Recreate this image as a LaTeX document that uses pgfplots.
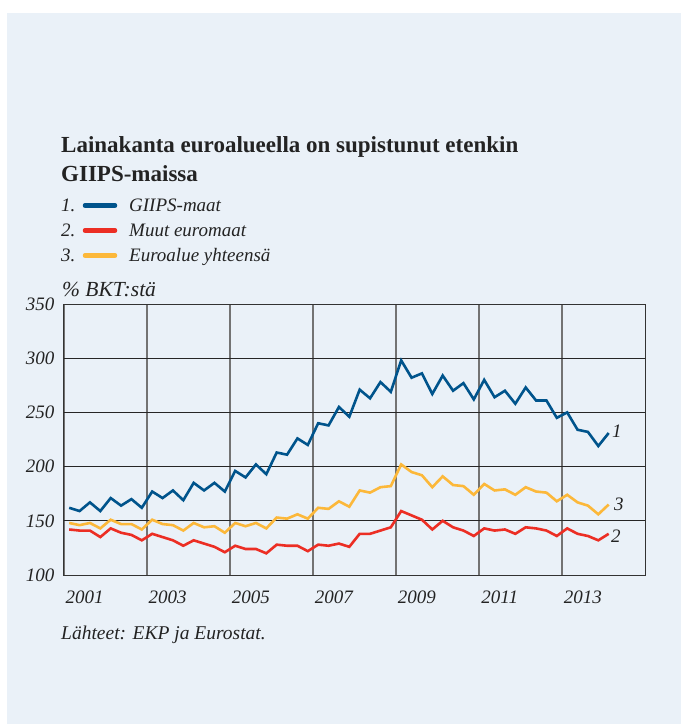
\documentclass[border=0pt]{standalone}
\usepackage{fontspec}
\setmainfont{Liberation Serif}
\usepackage{pgfplots}
\usepackage{pgfplotstable}
\pgfplotsset{compat=1.18}
\definecolor{panel}{RGB}{234,241,248}
\definecolor{cblue}{RGB}{0,84,140}
\definecolor{cred}{RGB}{236,46,36}
\definecolor{cyel}{RGB}{252,184,58}
\definecolor{txt}{RGB}{35,35,35}
\pgfplotstableread{
date giips muut euro
2001.125 162 142 148
2001.375 159 141 146
2001.625 167 141 148
2001.875 159 135 143
2002.125 171 143 151
2002.375 164 139 147
2002.625 170 137 147
2002.875 162 132 142
2003.125 177 138 151
2003.375 171 135 147
2003.625 178 132 146
2003.875 169 127 141
2004.125 185 132 148
2004.375 178 129 144
2004.625 185 126 145
2004.875 177 121 139
2005.125 196 127 148
2005.375 190 124 145
2005.625 202 124 148
2005.875 193 120 143
2006.125 213 128 153
2006.375 211 127 152
2006.625 226 127 156
2006.875 220 122 152
2007.125 240 128 162
2007.375 238 127 161
2007.625 255 129 168
2007.875 246 126 163
2008.125 271 138 178
2008.375 263 138 176
2008.625 278 141 181
2008.875 269 144 182
2009.125 298 159 202
2009.375 282 155 195
2009.625 286 151 192
2009.875 267 142 181
2010.125 284 150 191
2010.375 270 144 183
2010.625 277 141 182
2010.875 262 136 174
2011.125 280 143 184
2011.375 264 141 178
2011.625 270 142 179
2011.875 258 138 174
2012.125 273 144 181
2012.375 261 143 177
2012.625 261 141 176
2012.875 245 136 168
2013.125 250 143 174
2013.375 234 138 167
2013.625 232 136 164
2013.875 219 132 156
2014.125 231 138 165
}\data
\begin{document}
\begin{tikzpicture}[x=1pt,y=1pt]
\fill[white] (0pt,0pt) rectangle (681pt,-724pt);
\fill[panel] (7pt,-13pt) rectangle (681pt,-724pt);
\node[anchor=base west, inner sep=0, font=\fontsize{23}{27}\selectfont\bfseries, text=txt] at (61pt,-152pt) {Lainakanta euroalueella on supistunut etenkin};
\node[anchor=base west, inner sep=0, font=\fontsize{23}{27}\selectfont\bfseries, text=txt] at (61pt,-181pt) {GIIPS-maissa};
\node[anchor=base west, inner sep=0, font=\fontsize{19}{22}\selectfont\itshape, text=txt] at (61pt,-211pt) {1.};
\node[anchor=base west, inner sep=0, font=\fontsize{19}{22}\selectfont\itshape, text=txt] at (61pt,-236pt) {2.};
\node[anchor=base west, inner sep=0, font=\fontsize{19}{22}\selectfont\itshape, text=txt] at (61pt,-261pt) {3.};
\draw[cblue, line width=4.5pt, line cap=round] (85pt,-205.5pt) -- (115pt,-205.5pt);
\draw[cred, line width=4.5pt, line cap=round] (85pt,-230.5pt) -- (115pt,-230.5pt);
\draw[cyel, line width=4.5pt, line cap=round] (85pt,-255.5pt) -- (115pt,-255.5pt);
\node[anchor=base west, inner sep=0, font=\fontsize{19}{22}\selectfont\itshape, text=txt] at (129pt,-211pt) {GIIPS-maat};
\node[anchor=base west, inner sep=0, font=\fontsize{19}{22}\selectfont\itshape, text=txt] at (129pt,-236pt) {Muut euromaat};
\node[anchor=base west, inner sep=0, font=\fontsize{19}{22}\selectfont\itshape, text=txt] at (129pt,-261pt) {Euroalue yhteensä};
\node[anchor=base west, inner sep=0, font=\fontsize{21.5}{24}\selectfont\itshape, text=txt] at (62pt,-296pt) {\% BKT:stä};
\node[anchor=base west, inner sep=0, font=\fontsize{19.5}{22}\selectfont\itshape, text=txt] at (61pt,-639pt) {Lähteet: EKP ja Eurostat.};
\begin{axis}[
  at={(64pt,-575pt)}, anchor=south west,
  width=581pt, height=271pt, scale only axis,
  xmin=2001, xmax=2015, ymin=100, ymax=350,
  xtick={2001,2003,...,2013},
  xticklabels={2001,2003,2005,2007,2009,2011,2013},
  ytick={100,150,...,350},
  major tick length=0pt,
  grid=major,
  x grid style={black!55, line width=1.4pt},
  y grid style={black!85, line width=0.8pt},
  axis line style={black!80, line width=1pt},
  /pgf/number format/assume math mode=true,
  /pgf/number format/1000 sep={},
  tick label style={font=\fontsize{19}{22}\selectfont\itshape, text=txt},
  x tick label style={xshift=20.75pt, yshift=-12pt},
  y tick label style={xshift=-6pt},
  axis background/.style={fill=panel},
  clip=false,
]
\addplot[cblue, line width=2.6pt, line join=miter] table[x=date, y=giips] {\data};
\addplot[cred, line width=2.6pt, line join=miter] table[x=date, y=muut] {\data};
\addplot[cyel, line width=2.6pt, line join=miter] table[x=date, y=euro] {\data};
\node[font=\fontsize{19}{22}\selectfont\itshape, text=txt] at (axis cs:2014.32,233) {1};
\node[font=\fontsize{19}{22}\selectfont\itshape, text=txt] at (axis cs:2014.37,165) {3};
\node[font=\fontsize{19}{22}\selectfont\itshape, text=txt] at (axis cs:2014.30,136) {2};
\end{axis}
\end{tikzpicture}
\end{document}
